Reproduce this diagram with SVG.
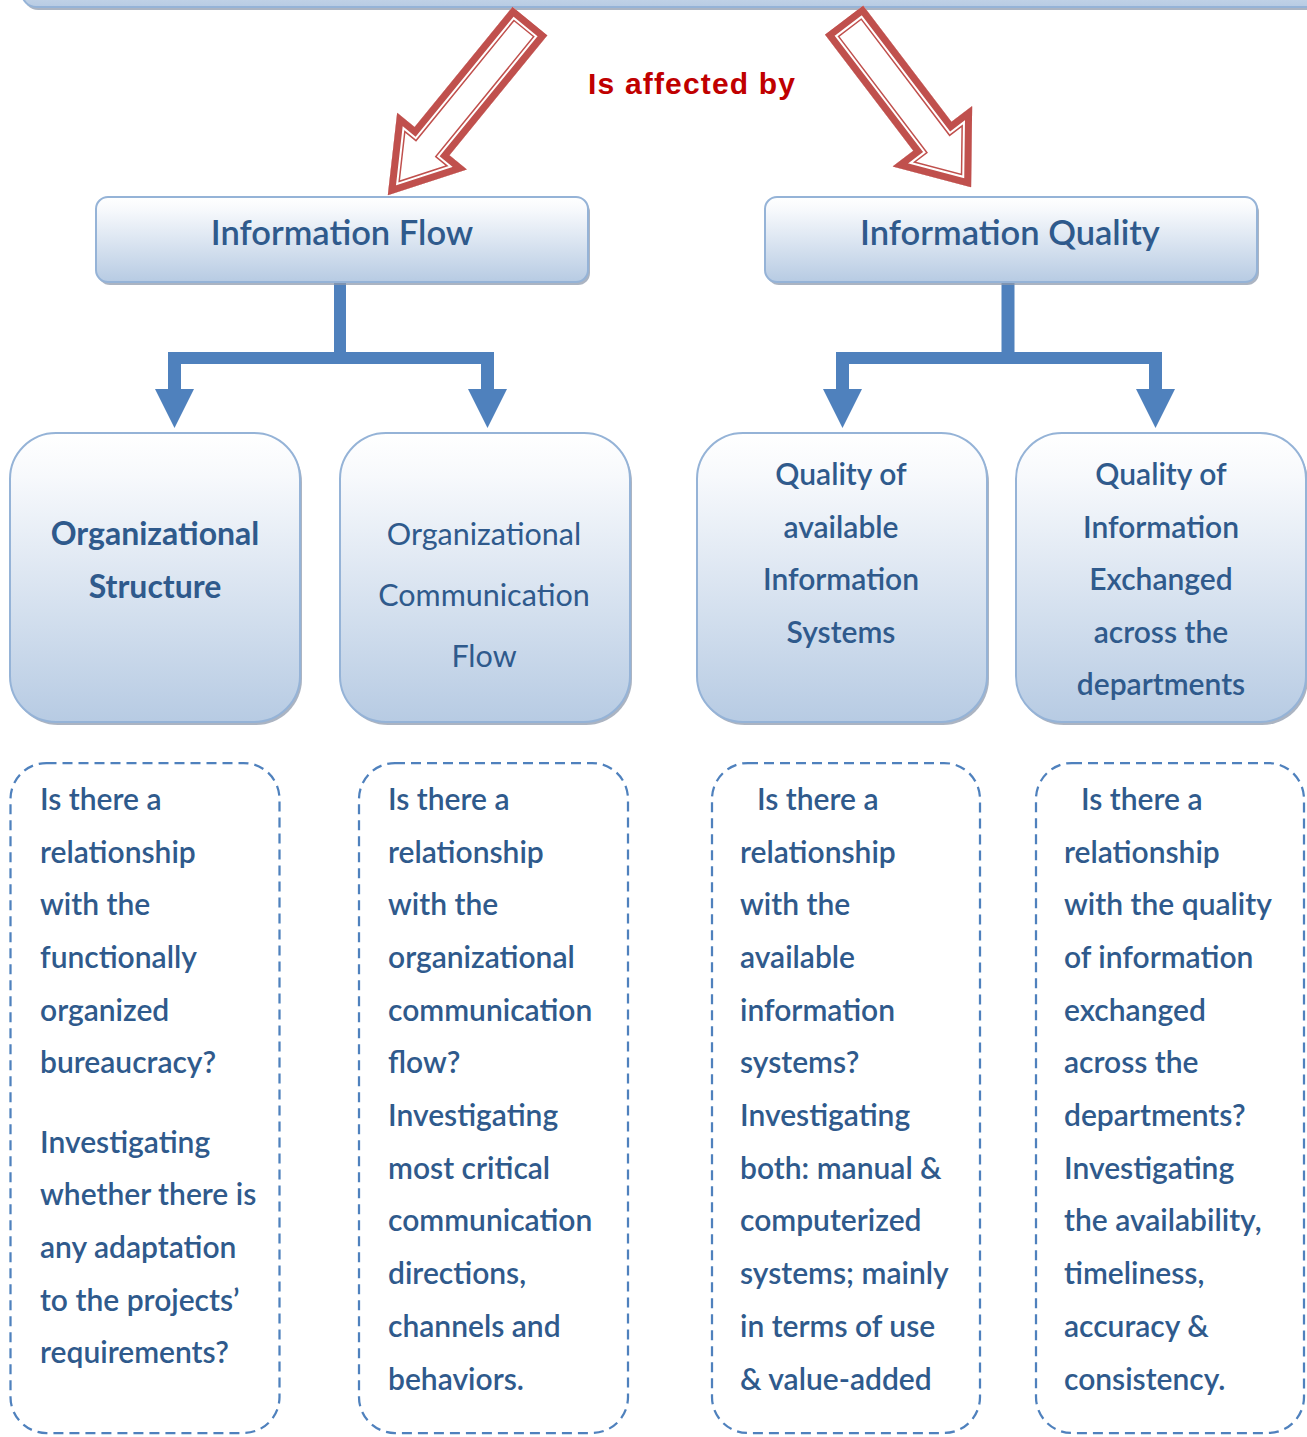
<svg xmlns="http://www.w3.org/2000/svg" width="1307" height="1437" viewBox="0 0 1307 1437">
<defs>
<linearGradient id="gr" x1="0" y1="0" x2="0" y2="1">
<stop offset="0" stop-color="#FFFFFF"/>
<stop offset="0.15" stop-color="#F7F9FC"/>
<stop offset="1" stop-color="#B7CBE3"/>
</linearGradient>
<clipPath id="clipL"><polygon points="0,-22.5 155,-22.5 155,-45 225,0 155,45 155,22.5 0,22.5"/></clipPath>
<clipPath id="clipR"><polygon points="0,-24 146,-24 146,-50 210,0 146,50 146,24 0,24"/></clipPath>
<style>
.box{fill:url(#gr);stroke:#95B3D7;stroke-width:2}
.shadow{fill:#8F9BAE;opacity:0.75}
.dash{fill:none;stroke:#4F81BD;stroke-width:2.25;stroke-dasharray:10 6}
.conn{fill:#4F81BD}
.a1{fill:none;stroke:#C0504D;stroke-width:21;stroke-linejoin:miter;stroke-miterlimit:10}
.a2{fill:none;stroke:#FFFFFF;stroke-width:18;stroke-linejoin:miter;stroke-miterlimit:10}
.a3{fill:none;stroke:#C0504D;stroke-width:14;stroke-linejoin:miter;stroke-miterlimit:10}
text{font-family:Lato,"Liberation Sans",sans-serif;fill:#2F5A8C}
.h1{font-size:34.5px;font-weight:600;text-anchor:middle}
.nb{font-size:32px;font-weight:700;text-anchor:middle}
.nr{font-size:30.5px;font-weight:400;text-anchor:middle}
.nm{font-size:30px;font-weight:600;text-anchor:middle}
.b{font-size:30px;font-weight:600}
.lbl{font-family:"Liberation Sans",Arial,sans-serif;font-size:30px;font-weight:700;fill:#C00000}
</style>
</defs>
<rect width="1307" height="1437" fill="#FFFFFF"/>

<g id="top-node">
<rect class="shadow" x="24" y="-60" width="1320" height="70" rx="14"/>
<rect class="box" x="22" y="-62" width="1320" height="69" rx="14"/>
</g>

<g id="arrow-left" transform="translate(530,21) rotate(129.2)">
<g clip-path="url(#clipL)">
<polygon points="0,-22.5 155,-22.5 155,-45 225,0 155,45 155,22.5 0,22.5" fill="#FFFFFF"/>
<polygon class="a1" points="0,-22.5 155,-22.5 155,-45 225,0 155,45 155,22.5 0,22.5"/>
<polygon class="a2" points="0,-22.5 155,-22.5 155,-45 225,0 155,45 155,22.5 0,22.5"/>
<polygon class="a3" points="0,-22.5 155,-22.5 155,-45 225,0 155,45 155,22.5 0,22.5"/>
</g>
</g>
<g id="arrow-right" transform="translate(844,20) rotate(52.75)">
<g clip-path="url(#clipR)">
<polygon points="0,-24 146,-24 146,-50 210,0 146,50 146,24 0,24" fill="#FFFFFF"/>
<polygon class="a1" points="0,-24 146,-24 146,-50 210,0 146,50 146,24 0,24"/>
<polygon class="a2" points="0,-24 146,-24 146,-50 210,0 146,50 146,24 0,24"/>
<polygon class="a3" points="0,-24 146,-24 146,-50 210,0 146,50 146,24 0,24"/>
</g>
</g>
<g id="label-affected">
<text class="lbl" x="588" y="94" textLength="207" lengthAdjust="spacing">Is affected by</text>
</g>

<g id="connectors">
<path class="conn" d="M334,282 H346 V352 H494 V389 H507 L487.5,428 L468,389 H481 V364 H181 V389 H194 L174.5,428 L155,389 H168 V352 H334 Z"/>
<path class="conn" d="M1001.5,282 H1014.5 V352 H1162 V389 H1175 L1155.5,428 L1136,389 H1149 V364 H849 V389 H862 L842.5,428 L823,389 H836 V352 H1001.5 Z"/>
</g>

<g id="info-flow">
<rect class="shadow" x="98" y="200" width="492" height="85" rx="12"/>
<rect class="box" x="96" y="197" width="492" height="85" rx="12"/>
<text class="h1" x="342" y="245">Information Flow</text>
</g>
<g id="info-quality">
<rect class="shadow" x="767" y="200" width="492" height="85" rx="12"/>
<rect class="box" x="765" y="197" width="492" height="85" rx="12"/>
<text class="h1" x="1010" y="245">Information Quality</text>
</g>

<g id="org-structure">
<rect class="shadow" x="12" y="436" width="290" height="289" rx="46"/>
<rect class="box" x="10" y="433" width="290" height="289" rx="46"/>
<text class="nb" x="155" y="545">Organizational</text>
<text class="nb" x="155" y="598">Structure</text>
</g>
<g id="org-comm-flow">
<rect class="shadow" x="342" y="436" width="290" height="289" rx="46"/>
<rect class="box" x="340" y="433" width="290" height="289" rx="46"/>
<text class="nr" x="484" y="545">Organizational</text>
<text class="nr" x="484" y="606">Communication</text>
<text class="nr" x="484" y="667">Flow</text>
</g>
<g id="quality-is">
<rect class="shadow" x="699" y="436" width="290" height="289" rx="46"/>
<rect class="box" x="697" y="433" width="290" height="289" rx="46"/>
<text class="nm" x="841" y="485">Quality of</text>
<text class="nm" x="841" y="538">available</text>
<text class="nm" x="841" y="590">Information</text>
<text class="nm" x="841" y="643">Systems</text>
</g>
<g id="quality-exchanged">
<rect class="shadow" x="1018" y="436" width="290" height="289" rx="46"/>
<rect class="box" x="1016" y="433" width="290" height="289" rx="46"/>
<text class="nm" x="1161" y="485">Quality of</text>
<text class="nm" x="1161" y="538">Information</text>
<text class="nm" x="1161" y="590">Exchanged</text>
<text class="nm" x="1161" y="643">across the</text>
<text class="nm" x="1161" y="695">departments</text>
</g>

<g id="q-structure">
<rect class="dash" x="10.5" y="763" width="269" height="670" rx="36"/>
<text class="b" x="40" y="810">Is there a</text>
<text class="b" x="40" y="863">relationship</text>
<text class="b" x="40" y="915">with the</text>
<text class="b" x="40" y="968">functionally</text>
<text class="b" x="40" y="1021">organized</text>
<text class="b" x="40" y="1073">bureaucracy?</text>
<text class="b" x="40" y="1153">Investigating</text>
<text class="b" x="40" y="1205">whether there is</text>
<text class="b" x="40" y="1258">any adaptation</text>
<text class="b" x="40" y="1311">to the projects’</text>
<text class="b" x="40" y="1363">requirements?</text>
</g>
<g id="q-comm">
<rect class="dash" x="359" y="763" width="269" height="670" rx="36"/>
<text class="b" x="388" y="810">Is there a</text>
<text class="b" x="388" y="863">relationship</text>
<text class="b" x="388" y="915">with the</text>
<text class="b" x="388" y="968">organizational</text>
<text class="b" x="388" y="1021">communication</text>
<text class="b" x="388" y="1073">flow?</text>
<text class="b" x="388" y="1126">Investigating</text>
<text class="b" x="388" y="1179">most critical</text>
<text class="b" x="388" y="1231">communication</text>
<text class="b" x="388" y="1284">directions,</text>
<text class="b" x="388" y="1337">channels and</text>
<text class="b" x="388" y="1390">behaviors.</text>
</g>
<g id="q-systems">
<rect class="dash" x="712" y="763" width="268" height="670" rx="36"/>
<text class="b" x="757" y="810">Is there a</text>
<text class="b" x="740" y="863">relationship</text>
<text class="b" x="740" y="915">with the</text>
<text class="b" x="740" y="968">available</text>
<text class="b" x="740" y="1021">information</text>
<text class="b" x="740" y="1073">systems?</text>
<text class="b" x="740" y="1126">Investigating</text>
<text class="b" x="740" y="1179">both: manual &amp;</text>
<text class="b" x="740" y="1231">computerized</text>
<text class="b" x="740" y="1284">systems; mainly</text>
<text class="b" x="740" y="1337">in terms of use</text>
<text class="b" x="740" y="1390">&amp; value-added</text>
</g>
<g id="q-exchange">
<rect class="dash" x="1036" y="763" width="268" height="670" rx="36"/>
<text class="b" x="1081" y="810">Is there a</text>
<text class="b" x="1064" y="863">relationship</text>
<text class="b" x="1064" y="915">with the quality</text>
<text class="b" x="1064" y="968">of information</text>
<text class="b" x="1064" y="1021">exchanged</text>
<text class="b" x="1064" y="1073">across the</text>
<text class="b" x="1064" y="1126">departments?</text>
<text class="b" x="1064" y="1179">Investigating</text>
<text class="b" x="1064" y="1231">the availability,</text>
<text class="b" x="1064" y="1284">timeliness,</text>
<text class="b" x="1064" y="1337">accuracy &amp;</text>
<text class="b" x="1064" y="1390">consistency.</text>
</g>
</svg>
